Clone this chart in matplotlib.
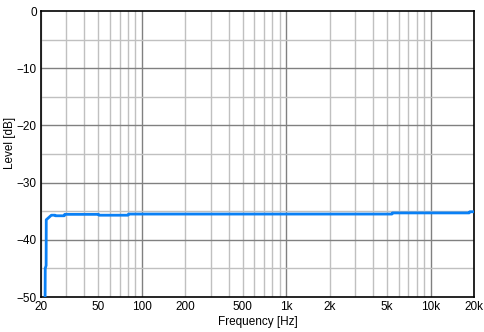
import matplotlib.pyplot as plt
from matplotlib.ticker import FixedLocator, NullFormatter

plt.rcParams['font.family'] = ['Liberation Sans', 'DejaVu Sans']

freq = [21.35, 21.4, 21.7, 21.75, 23.6, 25, 25.2, 29, 29.2, 50, 50.5, 80, 81,
        5400, 5450, 18500, 18700, 20000]
level = [-50, -45, -44.5, -36.5, -35.7, -35.7, -35.8, -35.8, -35.55, -35.55, -35.7,
         -35.7, -35.5, -35.5, -35.3, -35.3, -35.1, -35.1]

xticks = [20, 50, 100, 200, 500, 1000, 2000, 5000, 10000, 20000]
xlabels = ['20', '50', '100', '200', '500', '1k', '2k', '5k', '10k', '20k']

fig = plt.figure(figsize=(4.84, 3.32), dpi=100)
ax = fig.add_axes([41 / 484, 35 / 332, 433 / 484, 286 / 332])

minor_x = [m * d for d in (10, 100, 1000, 10000) for m in range(2, 10) if 20 <= m * d <= 20000]
for f in minor_x:
    ax.axvline(f, color='#c0c0c0', lw=1, zorder=1)
for f in (100, 1000, 10000):
    ax.axvline(f, color='#808080', lw=1, zorder=1)
for y in range(-45, 0, 10):
    ax.axhline(y, color='#c0c0c0', lw=1, zorder=1)
for y in range(-40, 0, 10):
    ax.axhline(y, color='#808080', lw=1, zorder=1)

ax.plot(freq, level, color='#0a80f5', lw=2.0, zorder=3)

ax.set_xscale('log')
ax.set_xlim(20, 20000)
ax.set_ylim(-50, 0)
ax.xaxis.set_major_locator(FixedLocator(xticks))
ax.set_xticklabels(xlabels)
ax.xaxis.set_minor_locator(FixedLocator([]))
ax.xaxis.set_minor_formatter(NullFormatter())
ax.set_yticks(range(-50, 1, 10))
ax.tick_params(length=0, labelsize=8.5, pad=3)
for s in ax.spines.values():
    s.set_linewidth(1.2)
ax.set_xlabel('Frequency [Hz]', fontsize=8.5, labelpad=2)
ax.set_ylabel('Level [dB]', fontsize=8.5, va='center')
ax.yaxis.set_label_coords(-0.072, 0.54)

fig.savefig('out.png', dpi=100)
